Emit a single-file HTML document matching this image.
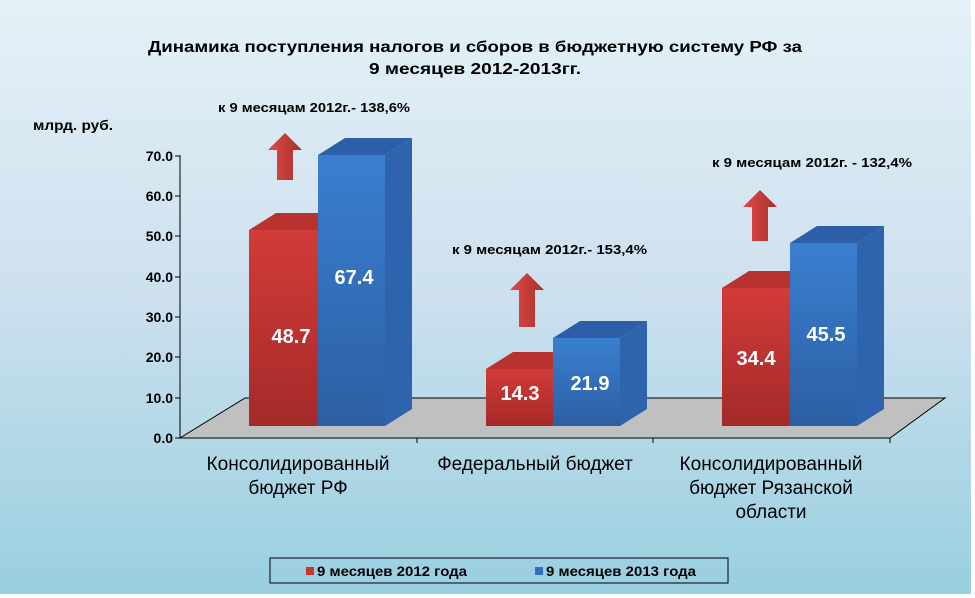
<!DOCTYPE html>
<html><head><meta charset="utf-8"><style>
body{margin:0;background:#fff;}
svg{display:block;font-family:"Liberation Sans",Arial,sans-serif;}
</style></head><body>
<svg width="975" height="598" viewBox="0 0 975 598" xmlns="http://www.w3.org/2000/svg">
<defs>
<linearGradient id="bg" x1="0" y1="0" x2="0" y2="1">
<stop offset="0" stop-color="#e4f1f7"/><stop offset="0.5" stop-color="#cde0ee"/><stop offset="1" stop-color="#98cfe0"/></linearGradient>
<linearGradient id="rf" x1="0" y1="0" x2="0" y2="1"><stop offset="0" stop-color="#d23b38"/><stop offset="1" stop-color="#a42a2a"/></linearGradient>
<linearGradient id="bf" x1="0" y1="0" x2="0" y2="1"><stop offset="0" stop-color="#3a7fd0"/><stop offset="1" stop-color="#2c5fa3"/></linearGradient>
<linearGradient id="ar" x1="0" y1="0" x2="1" y2="0"><stop offset="0" stop-color="#e04a44"/><stop offset="1" stop-color="#a8302e"/></linearGradient>
</defs>
<rect x="0" y="0" width="971" height="594" fill="url(#bg)"/>
<text x="148" y="52" font-size="16" font-weight="bold" textLength="654" lengthAdjust="spacingAndGlyphs">Динамика поступления налогов и сборов в бюджетную систему РФ за</text>
<text x="369" y="74" font-size="16" font-weight="bold" textLength="212" lengthAdjust="spacingAndGlyphs">9 месяцев 2012-2013гг.</text>
<text x="33" y="130" font-size="14" font-weight="bold" textLength="80" lengthAdjust="spacingAndGlyphs">млрд. руб.</text>
<polygon points="180,438 890,438 945,398 245,398" fill="#c0c0c0" stroke="#000" stroke-width="1"/>
<line x1="180" y1="438" x2="890" y2="438" stroke="#000"/>
<line x1="180" y1="155" x2="180" y2="438" stroke="#000"/>
<g stroke="#000"><line x1="175" y1="156" x2="180" y2="156"/><line x1="175" y1="196" x2="180" y2="196"/><line x1="175" y1="236" x2="180" y2="236"/><line x1="175" y1="277" x2="180" y2="277"/><line x1="175" y1="317" x2="180" y2="317"/><line x1="175" y1="357" x2="180" y2="357"/><line x1="175" y1="398" x2="180" y2="398"/><line x1="175" y1="438" x2="180" y2="438"/>
<line x1="417" y1="438" x2="417" y2="443"/><line x1="653" y1="438" x2="653" y2="443"/><line x1="890" y1="438" x2="890" y2="443"/></g>
<g font-size="14" font-weight="bold" text-anchor="end">
<text x="173" y="161">70.0</text><text x="173" y="201">60.0</text><text x="173" y="241">50.0</text><text x="173" y="282">40.0</text><text x="173" y="322">30.0</text><text x="173" y="362">20.0</text><text x="173" y="403">10.0</text><text x="173" y="443">0.0</text></g>
<g>
<polygon points="249,230 318,230 345,213 276,213" fill="#b83230"/>
<rect x="249" y="230" width="69" height="196" fill="url(#rf)"/>
<polygon points="385,155 412,138 412,409 385,426" fill="#2d64ad"/>
<polygon points="318,155 385,155 412,138 345,138" fill="#2c5fa8"/>
<rect x="318" y="155" width="67" height="271" fill="url(#bf)"/>
<polygon points="486,369 553,369 580,352 513,352" fill="#b83230"/>
<rect x="486" y="369" width="67" height="57" fill="url(#rf)"/>
<polygon points="620,338 647,321 647,409 620,426" fill="#2d64ad"/>
<polygon points="553,338 620,338 647,321 580,321" fill="#2c5fa8"/>
<rect x="553" y="338" width="67" height="88" fill="url(#bf)"/>
<polygon points="722,288 790,288 817,271 749,271" fill="#b83230"/>
<rect x="722" y="288" width="68" height="138" fill="url(#rf)"/>
<polygon points="857,243 884,226 884,409 857,426" fill="#2d64ad"/>
<polygon points="790,243 857,243 884,226 817,226" fill="#2c5fa8"/>
<rect x="790" y="243" width="67" height="183" fill="url(#bf)"/>
</g>
<g font-size="20" font-weight="bold" fill="#fff" text-anchor="middle">
<text x="291" y="343">48.7</text><text x="354" y="284">67.4</text>
<text x="520" y="400">14.3</text><text x="590" y="390">21.9</text>
<text x="756" y="365">34.4</text><text x="826" y="341">45.5</text></g>
<g fill="url(#ar)">
<polygon points="277,180 293,180 293,150 302,150 285,133 268,150 277,150"/>
<polygon points="519,327 535,327 535,290 544,290 527,273 510,290 519,290"/>
<polygon points="752,241 768,241 768,207 777,207 760,190 743,207 752,207"/>
</g>
<g font-size="13" font-weight="bold">
<text x="218" y="112" textLength="192" lengthAdjust="spacingAndGlyphs">к 9 месяцам 2012г.- 138,6%</text>
<text x="452" y="254" textLength="195" lengthAdjust="spacingAndGlyphs">к  9 месяцам 2012г.- 153,4%</text>
<text x="712" y="167" textLength="200" lengthAdjust="spacingAndGlyphs">к  9 месяцам 2012г. - 132,4%</text></g>
<g font-size="19" text-anchor="middle">
<text x="298" y="470" textLength="183" lengthAdjust="spacingAndGlyphs">Консолидированный</text><text x="298" y="494">бюджет РФ</text>
<text x="535" y="470">Федеральный бюджет</text>
<text x="771" y="470" textLength="183" lengthAdjust="spacingAndGlyphs">Консолидированный</text><text x="771" y="494">бюджет Рязанской</text><text x="771" y="518">области</text></g>
<rect x="270" y="558" width="458" height="25" fill="none" stroke="#000"/>
<rect x="306" y="567" width="8" height="8" fill="#c83432"/>
<rect x="535" y="567" width="8" height="8" fill="#3470c0"/>
<g font-size="14" font-weight="bold"><text x="317" y="576" textLength="150" lengthAdjust="spacingAndGlyphs">9 месяцев 2012 года</text><text x="546" y="576" textLength="150" lengthAdjust="spacingAndGlyphs">9 месяцев 2013 года</text></g>
</svg>
</body></html>
